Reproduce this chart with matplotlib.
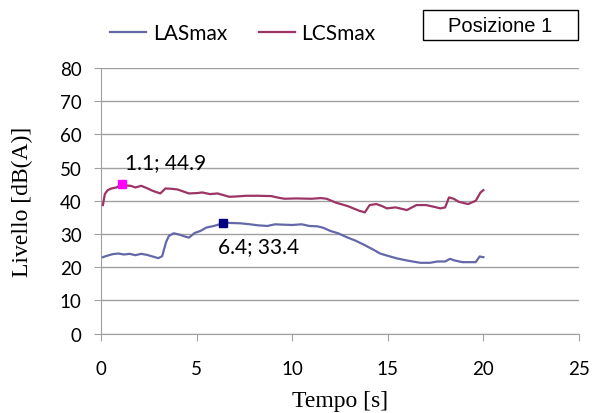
import matplotlib
matplotlib.use('Agg')
import matplotlib.pyplot as plt
from matplotlib.patches import Rectangle

# time [s] and levels [dB(A)]
t_las = [0.1, 0.3, 0.6, 0.9, 1.2, 1.5, 1.8, 2.1, 2.4, 2.7, 3.0, 3.2, 3.4, 3.55, 3.8, 4.1, 4.4, 4.6,
         4.9, 5.2, 5.5, 5.9, 6.2, 6.4, 6.8, 7.3, 7.8, 8.2, 8.7, 9.1, 9.5, 10.0, 10.5, 10.9, 11.3,
         11.6, 12.0, 12.4, 12.9, 13.3, 13.7, 14.2, 14.6, 15.0, 15.5, 16.0, 16.4, 16.7, 17.2, 17.6,
         18.0, 18.25, 18.5, 18.9, 19.3, 19.6, 19.8, 20.0]
las = [23.0, 23.4, 23.9, 24.1, 23.8, 24.0, 23.6, 24.0, 23.7, 23.2, 22.7, 23.3, 27.5, 29.4, 30.2, 29.8,
       29.2, 28.9, 30.3, 30.9, 31.9, 32.4, 32.9, 33.4, 33.3, 33.2, 32.9, 32.6, 32.4, 32.9, 32.8, 32.7,
       32.9, 32.4, 32.3, 31.9, 30.9, 30.2, 28.9, 28.0, 26.9, 25.4, 24.1, 23.4, 22.6, 22.0, 21.6, 21.3,
       21.3, 21.7, 21.7, 22.5, 22.0, 21.5, 21.5, 21.5, 23.2, 23.0]

t_lcs = [0.1, 0.2, 0.35, 0.55, 0.8, 1.1, 1.3, 1.55, 1.8, 2.1, 2.4, 2.7, 3.1, 3.37, 3.7, 4.0, 4.3, 4.6,
         5.0, 5.3, 5.7, 6.1, 6.4, 6.7, 7.1, 7.6, 8.2, 8.9, 9.3, 9.6, 10.2, 11.0, 11.5, 11.8, 12.3,
         12.9, 13.5, 13.8, 14.05, 14.4, 14.7, 14.95, 15.4, 15.7, 16.0, 16.5, 17.0, 17.4, 17.75, 18.0,
         18.2, 18.45, 18.7, 19.2, 19.6, 19.85, 20.0]
lcs = [38.7, 42.0, 43.2, 43.7, 44.0, 44.9, 44.6, 44.5, 44.0, 44.5, 43.8, 43.0, 42.2, 43.7, 43.6,
       43.4, 42.8, 42.2, 42.3, 42.5, 42.0, 42.2, 41.7, 41.2, 41.3, 41.5, 41.5, 41.4, 40.9, 40.6,
       40.7, 40.6, 40.8, 40.6, 39.4, 38.4, 37.0, 36.5, 38.7, 39.0, 38.4, 37.7, 38.0, 37.6, 37.2,
       38.7, 38.7, 38.2, 37.7, 38.0, 41.0, 40.6, 39.7, 39.0, 40.0, 42.5, 43.2]

las_peak = (6.4, 33.4)
lcs_peak = (1.1, 44.9)

fig = plt.figure(figsize=(5.92, 4.14), dpi=100)
ax = fig.add_axes([101/592, 1-334.5/414, 478/592, 265.5/414])

ax.plot(t_las, las, color='#6468A8', lw=1.6, label='LASmax', zorder=3)
ax.plot(t_lcs, lcs, color='#9C3465', lw=1.6, label='LCSmax', zorder=3)
ax.plot(*lcs_peak, 's', color='#FF00FF', ms=6, zorder=4)
ax.plot(*las_peak, 's', color='#000080', ms=6, zorder=4)

ann_font = dict(family='Lato', size=15)
ax.annotate('1.1; 44.9', lcs_peak, xytext=(2, 16), textcoords='offset points',
            ha='left', va='center', **ann_font)
ax.annotate('6.4; 33.4', las_peak, xytext=(-4, -17), textcoords='offset points',
            ha='left', va='center', **ann_font)

ax.set_xlim(0, 25)
ax.set_ylim(0, 80)
ax.set_xticks(range(0, 26, 5))
ax.set_yticks(range(0, 81, 10))
ax.grid(axis='y', color='#A0A0A0', lw=1)
ax.set_axisbelow(True)
for s in ['top', 'right']:
    ax.spines[s].set_visible(False)
for s in ['left', 'bottom']:
    ax.spines[s].set_color('#A0A0A0')
ax.tick_params(colors='#A0A0A0', length=5, labelcolor='black', labelsize=13.5)
ax.tick_params(axis='y', pad=9)
ax.tick_params(axis='x', pad=14)
for lab in ax.get_xticklabels() + ax.get_yticklabels():
    lab.set_family('Lato')

ax.set_xlabel('Tempo [s]', family='Liberation Serif', size=17)
ax.set_ylabel('Livello [dB(A)]', family='Liberation Serif', size=17)
ax.xaxis.set_label_coords(0.5, -(401 - 334.5) / 265.5)
ax.yaxis.set_label_coords(-(101 - 22) / 478, 0.5)
ax.xaxis.label.set_va('center')
ax.yaxis.label.set_va('center')

fig.legend(loc='center', bbox_to_anchor=(243/592, 1-34/414), ncol=2, frameon=False,
           prop={'family': 'Lato', 'size': 15}, handlelength=1.7, handletextpad=0.33,
           columnspacing=1.55)

fig.patches.append(Rectangle((423/592, 1-41/414), 155/592, 30/414, transform=fig.transFigure,
                             fill=False, edgecolor='black', lw=1))
fig.text(500.5/592, 1-26/414, 'Posizione 1', ha='center', va='center',
         family='Liberation Sans', size=14.5)

fig.savefig('out.png', dpi=100)
